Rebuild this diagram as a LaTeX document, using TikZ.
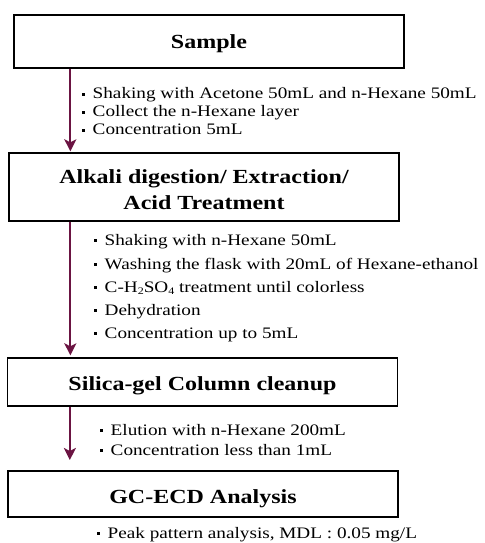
\documentclass[tikz,border=0pt]{standalone}
\usepackage{fontspec}
\setmainfont{Liberation Serif}
\newfontfamily\itemfont[FakeStretch=1.2]{Liberation Serif}
\newfontfamily\boxfont[FakeStretch=1.2]{Liberation Serif}
\usetikzlibrary{arrows.meta}
\definecolor{arrowcol}{HTML}{6B1442}
\newcommand{\sqbul}{\makebox[10.5bp][l]{\rule[0.2em]{3bp}{3bp}}}
\newcommand{\mysub}[1]{\raisebox{-0.3ex}{\fontsize{10bp}{10bp}\selectfont #1}}
\newcommand{\lowr}[1]{\rule{0pt}{#1bp}}
\tikzset{
  box/.style={draw=black, line width=1.3bp, minimum width=390bp, inner sep=0pt,
    font=\boxfont\bfseries\fontsize{20bp}{26bp}\selectfont, align=center},
  item/.style={anchor=base west, inner sep=0pt,
    font=\itemfont\fontsize{16bp}{18bp}\selectfont},
  arr/.style={draw=arrowcol, line width=2.2bp,
    -{Stealth[length=12bp,width=12bp,inset=3bp]}}
}
\begin{document}
\begin{tikzpicture}[x=1bp,y=-1bp]
\useasboundingbox (0,0) rectangle (485,543);
% boxes
\node[box, minimum height=53bp] (s1) at (209,41.5) {\lowr{18}Sample};
\node[box, minimum height=68bp] (s2) at (204,187) {\lowr{20}Alkali digestion/ Extraction/\\Acid Treatment};
\node[box, minimum height=48bp] (s3) at (202.5,382) {\lowr{22}Silica-gel Column cleanup};
\node[box, minimum height=46bp] (s4) at (203,494) {\lowr{24}GC-ECD Analysis};
% arrows
\coordinate (a1) at ([xshift=57bp]s1.south west);
\coordinate (a2) at ([xshift=62bp]s2.south west);
\coordinate (a3) at ([xshift=63bp]s3.south west);
\coordinate (e3) at (a3 |- 0,460);
\draw[arr, shorten >=1bp] (a1) -- (a1 |- s2.north);
\draw[arr, shorten >=2bp] (a2) -- (a2 |- s3.north);
\draw[arr] (a3) -- (e3);
% items block 1
\node[item] (t11) at (82,99) {\sqbul Shaking with Acetone 50mL and n-Hexane 50mL};
\node[item] (t12) at (82,117) {\sqbul Collect the n-Hexane layer};
\node[item] (t13) at (82,135) {\sqbul Concentration 5mL};
% items block 2
\node[item] (t21) at (94,245) {\sqbul Shaking with n-Hexane 50mL};
\node[item] (t22) at (94,269) {\sqbul Washing the flask with 20mL of Hexane-ethanol};
\node[item] (t23) at (94,292) {\sqbul C-H\mysub{2}SO\mysub{4} treatment until colorless};
\node[item] (t24) at (94,315) {\sqbul Dehydration};
\node[item] (t25) at (94,338) {\sqbul Concentration up to 5mL};
% items block 3
\node[item] (t31) at (100,435) {\sqbul Elution with n-Hexane 200mL};
\node[item] (t32) at (100,455) {\sqbul Concentration less than 1mL};
% items block 4
\node[item] (t41) at (97,538) {\sqbul Peak pattern analysis, MDL : 0.05 mg/L};
\end{tikzpicture}
\end{document}
